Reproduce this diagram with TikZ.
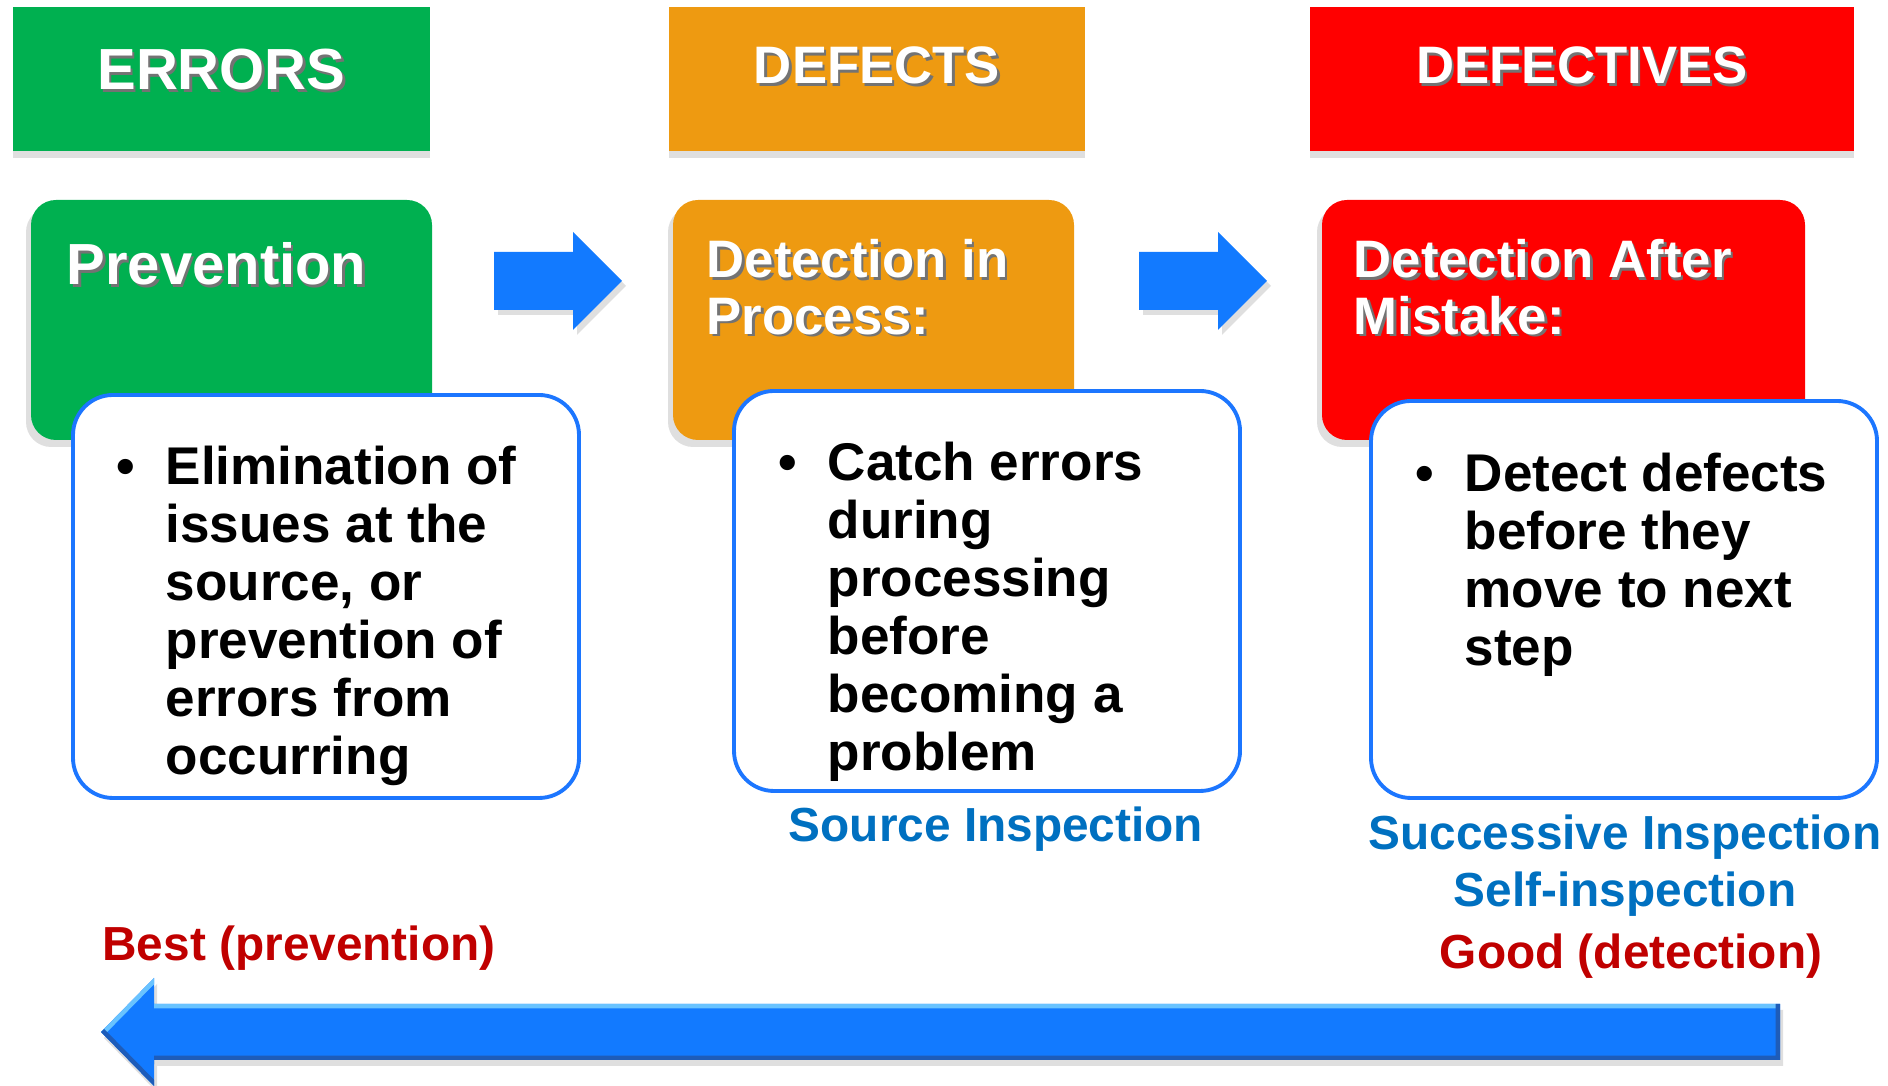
\documentclass[tikz,border=0pt]{standalone}
\usepackage{fontspec}
\setmainfont{Liberation Sans}
\usetikzlibrary{shadows}

\definecolor{errgreen}{RGB}{0,176,80}
\definecolor{defcolor}{RGB}{238,154,17}
\definecolor{dfvred}{RGB}{255,0,0}
\definecolor{arrowblue}{RGB}{18,122,255}
\definecolor{arrowhi}{RGB}{105,195,255}
\definecolor{arrowlo}{RGB}{30,92,185}
\definecolor{rimblue}{RGB}{28,118,255}
\definecolor{labblue}{RGB}{0,112,192}
\definecolor{labred}{RGB}{192,0,0}

% white text with a dark offset copy behind it
\newcommand{\shtext}[1]{\makebox[0pt][l]{\hspace{0.7pt}\raisebox{-0.7pt}{\color{black!55}#1}}#1}

\tikzset{
  hdrbox/.style={rectangle, minimum height=1.44cm, inner sep=0pt, text=white,
    text height=0.42cm, text depth=0.2cm, font=\bfseries,
    drop shadow={shadow xshift=0pt, shadow yshift=-0.7mm, opacity=0.25}},
  ttlbox/.style={rectangle, rounded corners=0.25cm, minimum height=2.4cm, inner sep=0pt,
    drop shadow={shadow xshift=-0.5mm, shadow yshift=-0.7mm, opacity=0.25}},
  ttltxt/.style={anchor=north west, inner sep=0pt, text=white, align=left,
    font=\fontsize{15}{16.1}\selectfont\bfseries},
  notebox/.style={rectangle, rounded corners=0.4cm, draw=rimblue, line width=1.1pt,
    fill=white, inner sep=0pt},
  notetxt/.style={anchor=north west, inner sep=0pt, align=left,
    font=\fontsize{15.1}{16.5}\selectfont\bfseries},
  lab/.style={anchor=base, inner sep=0pt, font=\fontsize{13.6}{15}\selectfont\bfseries},
}

\begin{document}
\begin{tikzpicture}
  \useasboundingbox (0,0) rectangle (18.88,10.86);

  % headers
  \node[hdrbox, fill=errgreen, minimum width=4.17cm] (errhdr) at (2.215,10.07) {\fontsize{16.5}{18}\selectfont\shtext{ERRORS}};
  \node[hdrbox, fill=defcolor, minimum width=4.16cm, text height=0.3cm] (defhdr) at (8.77,10.07) {\fontsize{15}{17}\selectfont\shtext{DEFECTS}};
  \node[hdrbox, fill=dfvred, minimum width=5.44cm, text height=0.3cm] (dfvhdr) at (15.82,10.07) {\fontsize{15}{17}\selectfont\shtext{DEFECTIVES}};

  % coloured stage boxes
  \node[ttlbox, fill=errgreen, minimum width=4.01cm] (prev) at (2.315,7.66) {};
  \node[ttlbox, fill=defcolor, minimum width=4.01cm] (inproc) at (8.735,7.66) {};
  \node[ttlbox, fill=dfvred, minimum width=4.83cm] (after) at (15.635,7.66) {};

  \node[ttltxt] (prevtxt) at (0.66,8.44) {\fontsize{16.5}{18}\selectfont\shtext{Prevention}};
  \node[ttltxt] (inproctxt) at (7.06,8.47) {\shtext{Detection in}\\\shtext{Process:}};
  \node[ttltxt] (aftertxt) at (13.53,8.47) {\shtext{Detection After}\\\shtext{Mistake:}};

  % white notes
  \node[notebox, minimum width=5.06cm, minimum height=4.03cm] (prevnote) at (3.26,4.895) {};
  \node[notebox, minimum width=5.06cm, minimum height=4.00cm] (inprocnote) at (9.87,4.95) {};
  \node[notebox, minimum width=5.06cm, minimum height=3.97cm] (afternote) at (16.24,4.865) {};

  \node[notetxt] (prevlist) at (1.65,6.41) {\llap{\textbullet\hspace{0.31cm}}Elimination of\\issues at the\\source, or\\prevention of\\errors from\\occurring};
  \node[notetxt] (inproclist) at (8.27,6.45) {\llap{\textbullet\hspace{0.31cm}}Catch errors\\during\\processing\\before\\becoming a\\problem};
  \node[notetxt] (afterlist) at (14.64,6.34) {\llap{\textbullet\hspace{0.31cm}}Detect defects\\before they\\move to next\\step};

  % block arrows between the stages
  \foreach \x in {4.94,11.39}{
    \fill[arrowblue, drop shadow={shadow xshift=0.4mm, shadow yshift=-0.5mm, opacity=0.25}]
      (\x,7.76) -- (\x+0.79,7.76) -- (\x+0.79,7.56) -- (\x+1.28,8.05)
      -- (\x+0.79,8.54) -- (\x+0.79,8.34) -- (\x,8.34) -- cycle;
  }

  % inspection labels
  \node[lab, text=labblue] (srcinsp) at (9.96,2.44) {Source Inspection};
  \node[lab, text=labblue] (succinsp) at (16.25,2.36) {Successive Inspection};
  \node[lab, text=labblue] (selfinsp) at (16.25,1.79) {Self-inspection};
  \node[lab, text=labred] (good) at (16.31,1.17) {Good (detection)};
  \node[lab, text=labred] (best) at (2.99,1.25) {Best (prevention)};

  % long arrow back towards prevention
  \def\botarrow{(1.01,0.54) -- (1.54,1.08) -- (1.54,0.82) -- (17.80,0.82) -- (17.80,0.26) -- (1.54,0.26) -- (1.54,0) -- cycle}
  \fill[arrowblue, drop shadow={shadow xshift=0.3mm, shadow yshift=-0.6mm, opacity=0.25}] \botarrow;
  \begin{scope}
    \clip \botarrow;
    \draw[line width=2.5pt, arrowhi] (1.01,0.54) -- (1.54,1.08) (1.54,0.82) -- (17.80,0.82);
    \draw[line width=2.5pt, arrowlo] (1.01,0.54) -- (1.54,0) (1.54,0.26) -- (17.80,0.26) -- (17.80,0.82);
  \end{scope}
\end{tikzpicture}
\end{document}
